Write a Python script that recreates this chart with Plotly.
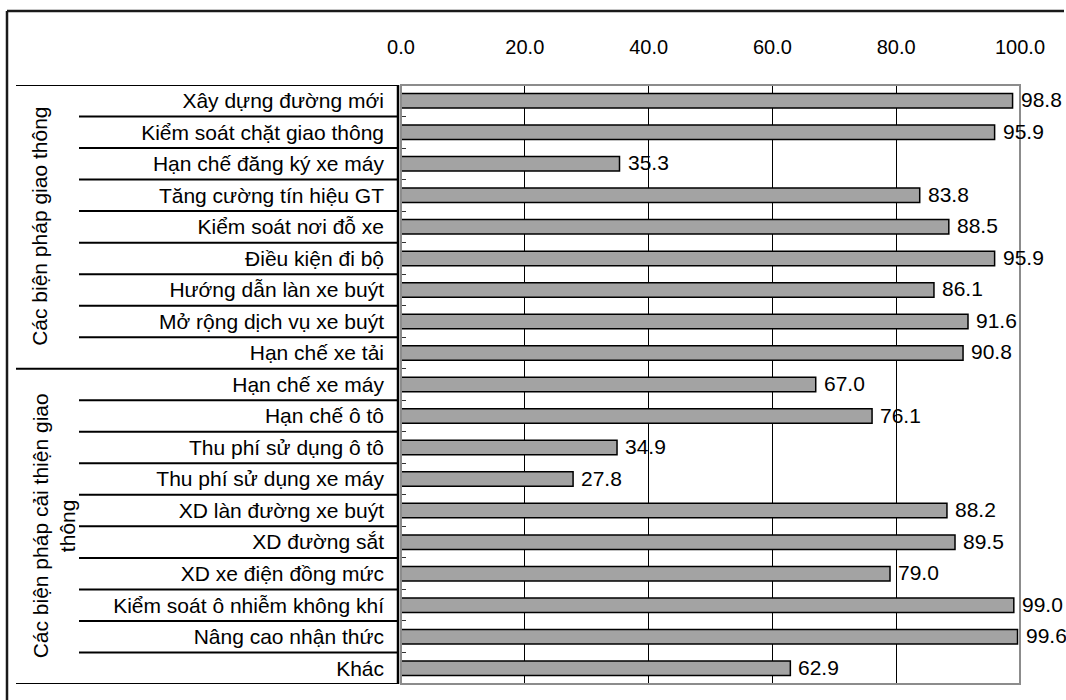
import plotly.graph_objects as go

# Survey results: share of respondents supporting each measure (%)
group_names = ["Các biện pháp giao thông", "Các biện pháp cải thiện giao<br>thông"]
group_sizes = [9, 10]

measures = [
    "Xây dựng đường mới",
    "Kiểm soát chặt giao thông",
    "Hạn chế đăng ký xe máy",
    "Tăng cường tín hiệu GT",
    "Kiểm soát nơi đỗ xe",
    "Điều kiện đi bộ",
    "Hướng dẫn làn xe buýt",
    "Mở rộng dịch vụ xe buýt",
    "Hạn chế xe tải",
    "Hạn chế xe máy",
    "Hạn chế ô tô",
    "Thu phí sử dụng ô tô",
    "Thu phí sử dụng xe máy",
    "XD làn đường xe buýt",
    "XD đường sắt",
    "XD xe điện đồng mức",
    "Kiểm soát ô nhiễm không khí",
    "Nâng cao nhận thức",
    "Khác",
]
support = [98.8, 95.9, 35.3, 83.8, 88.5, 95.9, 86.1, 91.6, 90.8,
           67.0, 76.1, 34.9, 27.8, 88.2, 89.5, 79.0, 99.0, 99.6, 62.9]
x_ticks = [0, 20, 40, 60, 80, 100]

FONT = "Liberation Sans, Arial, sans-serif"
W, H = 1066, 700
ML, MR, MT, MB = 401, 46, 85, 16
PW = W - ML - MR
PH = H - MT - MB


def px_x(px):
    """Convert a page x pixel into paper coordinates."""
    return (px - ML) / PW


def px_y(py):
    """Convert a page y pixel into paper coordinates."""
    return 1 - (py - MT) / PH


fig = go.Figure(
    go.Bar(
        x=support,
        y=measures,
        orientation="h",
        marker=dict(color="#a3a3a3", line=dict(color="#000000", width=1.5)),
        hoverinfo="x+y",
    )
)

# value labels just past the end of each bar
annotations = [
    dict(x=v, y=m, xref="x", yref="y", text=f"{v:.1f}", showarrow=False,
         xanchor="left", yanchor="middle", xshift=6, yshift=1,
         font=dict(family=FONT, size=21, color="#000000"))
    for m, v in zip(measures, support)
]

# group labels of the two-level category axis
shapes = []
start = 0
group_x = [px_x(40), px_x(54)]
for name, size, gx in zip(group_names, group_sizes, group_x):
    annotations.append(dict(
        x=gx, y=start + (size - 1) / 2, xref="paper", yref="y",
        text=name, showarrow=False, textangle=-90, align="center",
        xanchor="center", yanchor="middle",
        font=dict(family=FONT, size=21, color="#000000")))
    # row separators inside the group
    for i in range(start, start + size - 1):
        shapes.append(dict(type="line", xref="paper", yref="y",
                           x0=px_x(79), x1=px_x(398), y0=i + 0.5, y1=i + 0.5,
                           line=dict(color="#000000", width=2)))
    start += size

# group boundaries spanning the full label column
bounds = [-0.5]
acc = -0.5
for size in group_sizes:
    acc += size
    bounds.append(acc)
for b in bounds:
    shapes.append(dict(type="line", xref="paper", yref="y",
                       x0=px_x(16), x1=px_x(398), y0=b, y1=b,
                       line=dict(color="#000000", width=2)))

# plot area border (grey) and the black category axis line
shapes.append(dict(type="rect", xref="paper", yref="paper", x0=0, x1=1, y0=0, y1=1,
                   line=dict(color="#8c8c8c", width=2), layer="above"))
shapes.append(dict(type="line", xref="paper", yref="y",
                   x0=px_x(398), x1=px_x(398), y0=-0.5, y1=bounds[-1],
                   line=dict(color="#000000", width=2.5)))

# outer chart frame (top and left edges)
shapes.append(dict(type="line", xref="paper", yref="paper",
                   x0=px_x(7), x1=px_x(1064), y0=px_y(11), y1=px_y(11),
                   line=dict(color="#1a1a1a", width=2.5)))
shapes.append(dict(type="line", xref="paper", yref="paper",
                   x0=px_x(7), x1=px_x(7), y0=px_y(11), y1=px_y(700),
                   line=dict(color="#1a1a1a", width=2.5)))

fig.update_layout(
    width=W, height=H,
    margin=dict(l=ML, r=MR, t=MT, b=MB, pad=0),
    paper_bgcolor="#ffffff", plot_bgcolor="#ffffff",
    showlegend=False,
    bargap=0.54,
    font=dict(family=FONT, size=20, color="#000000"),
    annotations=annotations,
    shapes=shapes,
    xaxis=dict(
        side="top", range=[0, 100], tickvals=x_ticks, tickformat=".1f",
        showgrid=True, gridcolor="#000000", gridwidth=1,
        zeroline=False, showline=False, ticks="",
        ticklabelstandoff=26,
        tickfont=dict(family=FONT, size=20, color="#000000"),
    ),
    yaxis=dict(
        type="category", categoryorder="array", categoryarray=measures,
        range=[len(measures) - 0.5, -0.5],
        showgrid=False, zeroline=False, showline=False,
        ticks="inside", tickson="boundaries", ticklen=5, tickwidth=1,
        tickcolor="#333333",
        ticklabelstandoff=16,
        tickfont=dict(family=FONT, size=21, color="#000000"),
    ),
)

fig.write_html("out.html")
